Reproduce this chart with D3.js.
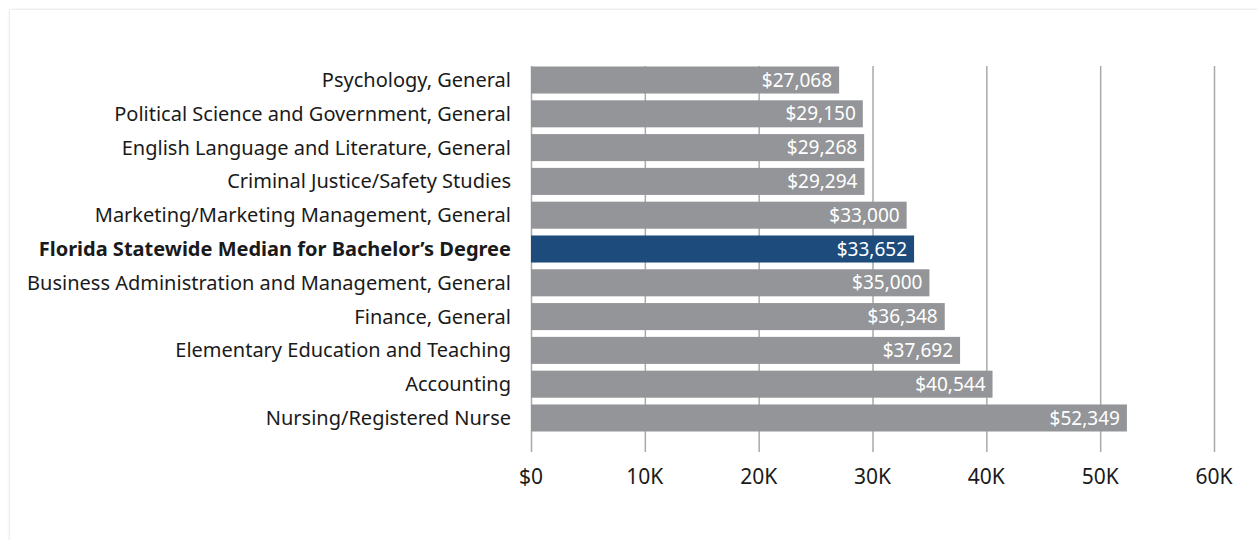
<!DOCTYPE html>
<html>
<head>
  <meta charset="utf-8">
  <title></title>
  <style>
    body { margin: 0; background: #fff; }
    svg text { font-family: "Noto Sans", sans-serif; }
  </style>
  <script src="https://d3js.org/d3.v7.min.js"></script>
</head>
<body>
  <svg id="chart" width="1257" height="540"></svg>
  <script>
    // data
    const majors = [
      "Psychology, General",
      "Political Science and Government, General",
      "English Language and Literature, General",
      "Criminal Justice/Safety Studies",
      "Marketing/Marketing Management, General",
      "Florida Statewide Median for Bachelor\u2019s Degree",
      "Business Administration and Management, General",
      "Finance, General",
      "Elementary Education and Teaching",
      "Accounting",
      "Nursing/Registered Nurse"
    ]
    const salaries = [27068, 29150, 29268, 29294, 33000, 33652, 35000, 36348, 37692, 40544, 52349]
    const highlight = "Florida Statewide Median for Bachelor\u2019s Degree"
    const tickValues = [0, 10000, 20000, 30000, 40000, 50000, 60000]
    const tickLabels = ["$0", "10K", "20K", "30K", "40K", "50K", "60K"]

    const svg = d3.select("#chart")

    // panel with soft edge
    const defs = svg.append("defs")
    const f = defs.append("filter").attr("id", "shadow")
      .attr("x", "-5%").attr("y", "-5%").attr("width", "110%").attr("height", "110%")
    f.append("feDropShadow").attr("dx", 0).attr("dy", 0).attr("stdDeviation", 1.5)
      .attr("flood-color", "#000").attr("flood-opacity", 0.18)
    svg.append("rect")
      .attr("x", 10).attr("y", 10).attr("width", 1270).attr("height", 560)
      .attr("fill", "#fff").attr("filter", "url(#shadow)")

    const x = d3.scaleLinear().domain([0, 60000]).range([531, 1214])
    const y = d3.scaleBand().domain(majors).range([66.5, 431.5]).paddingInner(0.2)

    // gridlines
    svg.append("g")
      .selectAll("line")
      .data(tickValues)
      .join("line")
      .attr("x1", d => x(d) + 0.5).attr("x2", d => x(d) + 0.5)
      .attr("y1", 66).attr("y2", 452)
      .attr("stroke", "#a7a9ac").attr("stroke-width", 1.5)

    // bars
    svg.append("g")
      .selectAll("rect")
      .data(majors)
      .join("rect")
      .attr("x", x(0))
      .attr("y", d => y(d))
      .attr("width", (d, i) => x(salaries[i]) - x(0))
      .attr("height", y.bandwidth())
      .attr("fill", d => d == highlight ? "#1c4b7c" : "#939598")

    // value labels
    svg.append("g")
      .selectAll("text")
      .data(majors)
      .join("text")
      .attr("x", (d, i) => x(salaries[i]) - 7)
      .attr("y", d => y(d) + y.bandwidth() / 2)
      .attr("dy", "0.35em")
      .attr("text-anchor", "end")
      .attr("fill", "#fff")
      .style("font-size", "19px")
      .text((d, i) => "$" + d3.format(",")(salaries[i]))

    // category labels
    svg.append("g")
      .selectAll("text")
      .data(majors)
      .join("text")
      .attr("x", 511)
      .attr("y", d => y(d) + y.bandwidth() / 2)
      .attr("dy", "0.35em")
      .attr("text-anchor", "end")
      .attr("fill", "#1a1a1a")
      .style("font-size", "20px")
      .style("font-weight", d => d == highlight ? "bold" : "normal")
      .text(d => d)

    // axis labels
    svg.append("g")
      .selectAll("text")
      .data(tickValues)
      .join("text")
      .attr("x", d => x(d))
      .attr("y", 477)
      .attr("dy", "0.35em")
      .attr("text-anchor", "middle")
      .attr("fill", "#1a1a1a")
      .style("font-size", "21px")
      .text((d, i) => tickLabels[i])
  </script>
</body>
</html>
